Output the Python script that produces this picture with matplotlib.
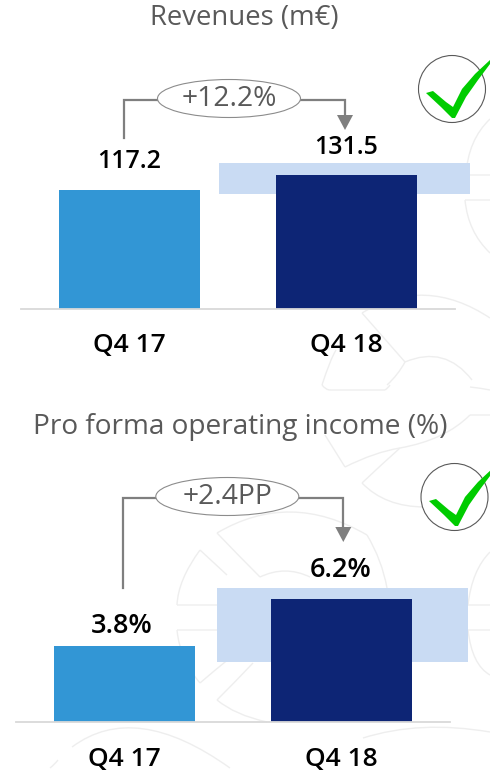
import matplotlib
matplotlib.use("Agg")
import matplotlib.pyplot as plt
from matplotlib.patches import Ellipse, Circle, Polygon, PathPatch
from matplotlib.path import Path

W, H = 490, 771
plt.rcParams['font.family'] = ['Open Sans', 'DejaVu Sans']

categories = ["Q4 17", "Q4 18"]
rev_values = [117.2, 131.5]
rev_labels = ["117.2", "131.5"]
rev_band = (113.0, 144.0)
op_values = [3.8, 6.2]
op_labels = ["3.8%", "6.2%"]
op_band = (3.03, 6.77)
bar_colors = ["#3296D5", "#0D2575"]
band_color = "#C9DBF3"
TITLE = "#595959"
GREY = "#7F7F7F"

fig = plt.figure(figsize=(W/100, H/100), dpi=100, facecolor="white")

bg = fig.add_axes([0, 0, 1, 1], zorder=0)
bg.set_xlim(0, W); bg.set_ylim(H, 0); bg.axis("off")
fg = fig.add_axes([0, 0, 1, 1], zorder=5)
fg.set_xlim(0, W); fg.set_ylim(H, 0); fg.axis("off"); fg.patch.set_alpha(0)

GEAR = "#EEEEEE"
curves = [
    ((490,119),(468,140),(466,175)), ((466,175),(478,175),(490,175)),
    ((465,200),(478,200),(490,200)), ((465,200),(468,232),(490,253)),
    ((362,313),(425,275),(490,318)), ((362,313),(384,338),(405,362)),
    ((405,362),(445,345),(472,380)), ((322,385),(330,360),(336,350)),
    ((387,385),(398,375),(405,362)), ((322,385),(326,390),(330,390)),
    ((330,390),(358,390),(385,390)), ((385,390),(388,388),(390,385)),
    ((470,387),(480,388),(490,390)),
    ((325,435),(335,451),(345,467)), ((345,467),(375,452),(400,448)),
    ((362,483),(381,465),(400,448)), ((362,483),(385,507),(425,507)),
    ((400,448),(445,440),(470,415)), ((470,415),(480,415),(490,415)),
    ((217,533),(290,490),(367,535)), ((367,535),(382,560),(387,588)),
    ((217,533),(238,555),(260,577)), ((260,577),(285,565),(310,577)),
    ((200,550),(213,562),(227,575)), ((200,550),(178,580),(177,605)),
    ((177,605),(200,605),(225,605)), ((177,630),(200,630),(225,630)),
    ((177,630),(180,660),(200,683)), ((200,683),(215,670),(230,658)),
    ((217,700),(235,682),(253,663)), ((217,700),(235,715),(267,722)),
    ((72,747),(135,700),(230,768)), ((363,738),(420,720),(490,732)),
    ((50,768),(55,764),(58,760)),
    ((468,605),(472,570),(490,552)), ((468,605),(478,605),(490,605)),
    ((468,630),(478,630),(490,630)), ((468,630),(472,665),(490,675)),
]
for a, b, c in curves:
    bg.add_patch(PathPatch(Path([a, b, c], [Path.MOVETO, Path.CURVE3, Path.CURVE3]),
                           fc="none", ec=GEAR, lw=1.0))

def panel(x0, x1, base_px, scale, values, band, band_shift):
    top_px = 10.0
    h = base_px - top_px
    ax = fig.add_axes([x0/W, 1-base_px/H, (x1-x0)/W, h/H], zorder=2)
    ax.patch.set_alpha(0)
    ax.set_xlim(-0.5, 1.5)
    ax.set_ylim(0, h/scale)
    ax.bar([1 + band_shift/217], [band[1]-band[0]], bottom=[band[0]], width=251/217,
           color=band_color, zorder=1, clip_on=False)
    ax.bar([0, 1], values, width=0.65, color=bar_colors, zorder=2)
    for s in ("top", "left", "right"):
        ax.spines[s].set_visible(False)
    ax.spines["bottom"].set_color("#D9D9D9")
    ax.spines["bottom"].set_linewidth(1.3)
    ax.set_yticks([])
    ax.set_xticks([0, 1], categories)
    ax.tick_params(axis="x", length=0, pad=18, labelsize=19)
    for t in ax.get_xticklabels():
        t.set_fontweight("semibold"); t.set_color("black")
    return ax

ax1 = panel(21, 455, 308.5, 1.012, rev_values, rev_band, -2)
ax2 = panel(16, 450, 721.7, 19.8, op_values, op_band, 1)

for x, y, s, fs in [(129.5, 162, rev_labels[0], 18), (346.5, 147, rev_labels[1], 18),
                    (122, 626, op_labels[0], 19.5), (341, 570, op_labels[1], 19.5)]:
    fg.text(x, y, s, ha="center", va="center", fontsize=fs, fontweight="semibold", color="black")

fg.text(244.5, 18, "Revenues (m€)", ha="center", va="center", fontsize=19.8, color=TITLE)
fg.text(240, 427, "Pro forma operating income (%)", ha="center", va="center", fontsize=20.2, color=TITLE)

def bracket(xl, yb, y, xr, ytip, cx, label):
    fg.plot([xl, xl, xr, xr], [yb, y, y, ytip-15], color=GREY, lw=1.6, solid_joinstyle="miter", zorder=3)
    fg.add_patch(Polygon([(xr-8, ytip-15), (xr+8, ytip-15), (xr, ytip)], fc=GREY, ec="none", zorder=3))
    fg.add_patch(Ellipse((cx, y-1.5), 143, 38, fc="white", ec="#8C8C8C", lw=0.8, zorder=4))
    fg.text(cx, y-1.5, label, ha="center", va="center", fontsize=20.3, color=TITLE, zorder=5)

bracket(124, 138, 100, 345, 130, 229, "+12.2%")
bracket(123, 588, 498, 343.3, 542, 227.3, "+2.4PP")

def check(cx, cy, dx, dy):
    fg.add_patch(Circle((cx, cy), 33.5, fc="white", ec="#595959", lw=0.8, zorder=3))
    pts = [(426,93),(433,91),(446,102),(453,107),(462,89),(475,74),(490,60),(490,64),(478,80),(466,97),(455,118),(452,118),(441,107)]
    fg.add_patch(Polygon([(x+dx, y+dy) for x, y in pts], fc="#00CC00", ec="none", zorder=4))

check(452, 89, 0, 0)
check(454.5, 497, 3, 408)

fig.savefig("out.png", dpi=100, facecolor="white")
